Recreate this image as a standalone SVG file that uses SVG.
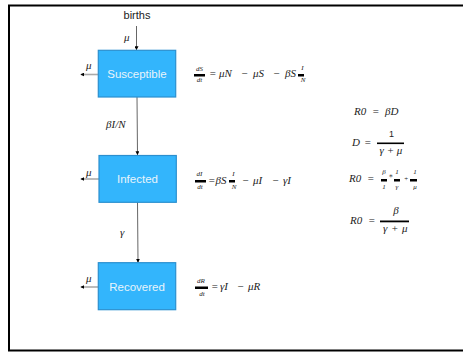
<svg xmlns="http://www.w3.org/2000/svg" width="463" height="352" viewBox="0 0 463 352">
<defs>
<marker id="ah" viewBox="0 0 6 6" refX="5" refY="3" markerWidth="4" markerHeight="4" orient="auto" markerUnits="userSpaceOnUse">
<path d="M0,0 L6,3 L0,6 z" fill="#000"/>
</marker>
<style>
.box{fill:#33b5fc;stroke:#2b8fcf;stroke-width:1.2}
.lbl{font-family:"Liberation Sans",Arial,sans-serif;font-size:11.5px;fill:#e8f4fb;text-anchor:middle}
.m{font-family:"Liberation Serif","DejaVu Serif",serif;font-style:italic;font-size:11px;fill:#222}
.s{font-family:"Liberation Serif","DejaVu Serif",serif;font-style:italic;font-size:7px;fill:#222;text-anchor:middle}
.bar{fill:#000}
.v{stroke:#555;stroke-width:0.9;fill:none}
.h{stroke:#aaa;stroke-width:1.6;fill:none}
</style>
</defs>
<rect x="9" y="5.5" width="470" height="345" fill="#fff" stroke="#000" stroke-width="2"/>
<text x="137" y="19" font-family="Liberation Sans,Arial,sans-serif" font-size="11" fill="#222" text-anchor="middle">births</text>
<g id="connectors">
<line class="v" x1="136.5" y1="26" x2="136.5" y2="49.5" marker-end="url(#ah)"/>
<line class="v" x1="137" y1="97" x2="137.5" y2="154.5" marker-end="url(#ah)"/>
<line class="v" x1="137.5" y1="202" x2="138" y2="262" marker-end="url(#ah)"/>
<line class="h" x1="98" y1="74.5" x2="81" y2="74.5" marker-end="url(#ah)"/>
<line class="h" x1="99" y1="179" x2="81" y2="179" marker-end="url(#ah)"/>
<line class="h" x1="98" y1="287" x2="81" y2="287" marker-end="url(#ah)"/>
<text class="m" x="124" y="41">μ</text>
<text class="m" x="86" y="69">μ</text>
<text class="m" x="86" y="176">μ</text>
<text class="m" x="86" y="282">μ</text>
<text class="m" x="106" y="128">βI/N</text>
<text class="m" x="120" y="236">γ</text>
</g>
<g id="susceptible">
<rect class="box" x="98.3" y="50.3" width="77.4" height="46.7"/>
<text class="lbl" x="137" y="78">Susceptible</text>
</g>
<g id="infected">
<rect class="box" x="99" y="155.5" width="77.3" height="46.8"/>
<text class="lbl" x="137.5" y="183">Infected</text>
</g>
<g id="recovered">
<rect class="box" x="98.3" y="262.7" width="77.4" height="47"/>
<text class="lbl" x="137" y="291">Recovered</text>
</g>
<g id="eqS">
<text class="s" x="199.5" y="71">dS</text>
<rect class="bar" x="194" y="74" width="11" height="2.5"/>
<text class="s" x="199.5" y="82">dt</text>
<text class="m" y="77"><tspan x="209">=</tspan><tspan x="219">μN</tspan><tspan x="241">−</tspan><tspan x="253">μS</tspan><tspan x="273">−</tspan><tspan x="285">βS</tspan></text>
<text class="s" x="302.5" y="70">I</text>
<rect class="bar" x="298" y="74" width="6" height="2.5"/>
<text class="s" x="303" y="82">N</text>
</g>
<g id="eqI">
<text class="s" x="199.5" y="176">dI</text>
<rect class="bar" x="195" y="180" width="11" height="2.5"/>
<text class="s" x="200" y="189">dt</text>
<text class="m" x="208" y="184">=βS</text>
<text class="s" x="233.5" y="176">I</text>
<rect class="bar" x="229" y="180" width="6" height="2.5"/>
<text class="s" x="234" y="189">N</text>
<text class="m" y="184"><tspan x="242">−</tspan><tspan x="253">μI</tspan><tspan x="272">−</tspan><tspan x="283">γI</tspan></text>
</g>
<g id="eqR">
<text class="s" x="201" y="283">dR</text>
<rect class="bar" x="195" y="286.5" width="13" height="2.5"/>
<text class="s" x="202" y="296">dt</text>
<text class="m" y="290"><tspan x="211">=</tspan><tspan x="220">γI</tspan><tspan x="237">−</tspan><tspan x="248">μR</tspan></text>
</g>
<g id="r0">
<text class="m" y="115"><tspan x="354">R0</tspan><tspan x="372">=</tspan><tspan x="385">βD</tspan></text>
<text class="m" y="146"><tspan x="352">D</tspan><tspan x="364">=</tspan></text>
<text x="391.5" y="137" font-family="Liberation Sans,Arial,sans-serif" font-size="9" fill="#222" text-anchor="middle">1</text>
<rect class="bar" x="377" y="142.5" width="27" height="1.6"/>
<text class="m" x="391" y="154" text-anchor="middle">γ + μ</text>
<text class="m" y="182"><tspan x="349">R0</tspan><tspan x="367">=</tspan></text>
<text class="s" x="384" y="174">β</text>
<rect class="bar" x="381" y="179" width="6" height="2.5"/>
<text class="s" x="384" y="189">1</text>
<text class="s" x="391" y="178">∗</text>
<text class="s" x="397" y="174">1</text>
<rect class="bar" x="394" y="179" width="6" height="2.5"/>
<text class="s" x="397" y="189">γ</text>
<text class="s" x="406" y="181">+</text>
<text class="s" x="415" y="174">1</text>
<rect class="bar" x="410" y="179" width="7" height="2.5"/>
<text class="s" x="415" y="189">μ</text>
<text class="m" y="224"><tspan x="350">R0</tspan><tspan x="368">=</tspan></text>
<text class="m" x="396" y="214" text-anchor="middle">β</text>
<rect class="bar" x="380" y="220.5" width="29" height="1.8"/>
<text class="m" y="232"><tspan x="383">γ</tspan><tspan x="391">+</tspan><tspan x="402">μ</tspan></text>
</g>
</svg>
